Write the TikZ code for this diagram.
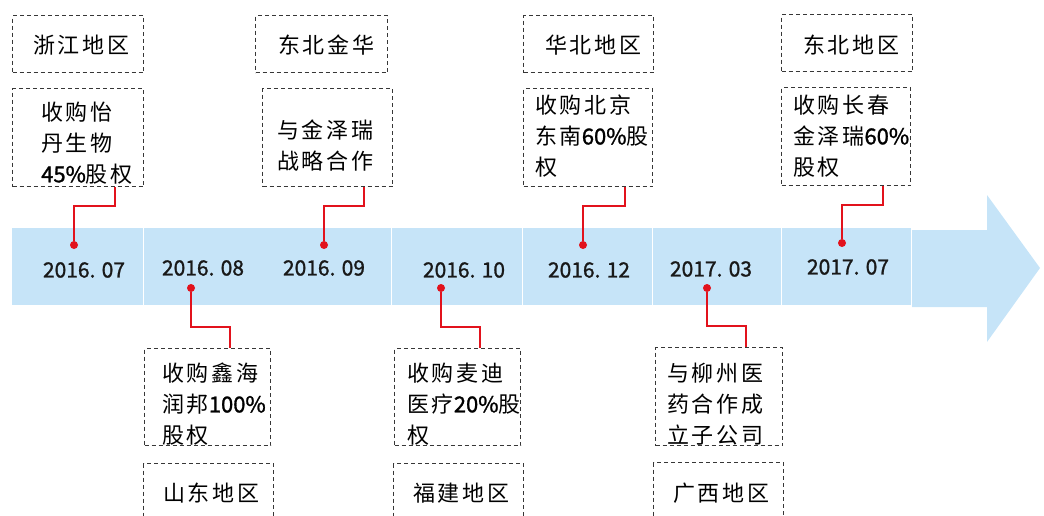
\documentclass[tikz,border=0pt]{standalone}
\usepackage{fontspec}
\setmainfont{Noto Sans CJK SC}
\newfontfamily\cjk[LetterSpace=12]{Noto Sans CJK SC}
\newfontfamily\datef[FakeBold=1.2]{Noto Sans CJK SC}
\newcommand{\nm}[1]{{\datef #1}}
\usetikzlibrary{calc}
\definecolor{band}{RGB}{198,228,248}
\definecolor{lnred}{RGB}{226,18,28}
\definecolor{boxline}{RGB}{55,55,55}
\begin{document}
\begin{tikzpicture}[x=1pt,y=-1pt,
  box/.style={draw=boxline, dash pattern=on 4pt off 3pt, line width=1.1pt, inner sep=0pt, anchor=north west},
  txt/.style={font=\cjk\fontsize{22}{31}\selectfont, align=left, anchor=west, inner sep=0pt, text=black},
  datelbl/.style={font=\datef\fontsize{21}{21}\selectfont, inner sep=0pt, text=black!90},
  dot/.style={circle, fill=lnred, inner sep=0pt, minimum size=8pt},
  conn/.style={draw=lnred, line width=1.6pt}]
\useasboundingbox (0,0) rectangle (1044,516);
\clip (0,0) rectangle (1044,516);
% band and arrow
\fill[band] (12,228) rectangle (911,305);
\foreach \x in {143,391,522,652,781}{\draw[white, line width=1pt] (\x,228) -- (\x,305);}
\fill[band] (912,230) -- (987,230) -- (987,195) -- (1040,268) -- (987,342) -- (987,307) -- (912,307) -- cycle;
% region boxes top
\node[box, minimum width=131pt, minimum height=57pt] (r1) at (12,15) {};
\node[box, minimum width=132pt, minimum height=57pt] (r2) at (255,15) {};
\node[box, minimum width=130pt, minimum height=57pt] (r3) at (523,15) {};
\node[box, minimum width=131pt, minimum height=57pt] (r4) at (781,14) {};
\node[txt] (r1t) at (33,45) {浙江地区};
\node[txt] (r2t) at (278,45) {东北金华};
\node[txt] (r3t) at (545,45) {华北地区};
\node[txt] (r4t) at (803,45) {东北地区};
% activity boxes top
\node[box, minimum width=131pt, minimum height=98pt] (a1) at (12,88) {};
\node[box, minimum width=130pt, minimum height=98pt] (a2) at (262,88) {};
\node[box, minimum width=129pt, minimum height=98pt] (a3) at (523,88) {};
\node[box, minimum width=129pt, minimum height=98pt] (a4) at (781,87) {};
\node[txt] (a1t) at (41,143) {收购怡\\丹生物\\\nm{45\%}股权};
\node[txt] (a2t) at (277,146) {与金泽瑞\\战略合作};
\node[txt] (a3t) at (535,136) {收购北京\\东南\nm{60\%}股\\权};
\node[txt] (a4t) at (793,136) {收购长春\\金泽瑞\nm{60\%}\\股权};
% activity boxes bottom
\node[box, minimum width=126pt, minimum height=97pt] (a5) at (144,348) {};
\node[box, minimum width=126pt, minimum height=97pt] (a6) at (394,348) {};
\node[box, minimum width=127pt, minimum height=98pt] (a7) at (655,347) {};
\node[txt] (a5t) at (162,404) {收购鑫海\\润邦\nm{100\%}\\股权};
\node[txt] (a6t) at (407,404) {收购麦迪\\医疗\nm{20\%}股\\权};
\node[txt] (a7t) at (667,404) {与柳州医\\药合作成\\立子公司};
% region boxes bottom
\node[box, minimum width=130pt, minimum height=90pt] (r5) at (143,463) {};
\node[box, minimum width=130pt, minimum height=90pt] (r6) at (393,463) {};
\node[box, minimum width=130pt, minimum height=90pt] (r7) at (653,462) {};
\node[txt] (r5t) at (163,493) {山东地区};
\node[txt] (r6t) at (413,493) {福建地区};
\node[txt] (r7t) at (673,493) {广西地区};
% dates
\node[datelbl] (t1) at (84,270) {2016. 07};
\node[datelbl] (t2) at (203,268) {2016. 08};
\node[datelbl] (t3) at (324,268) {2016. 09};
\node[datelbl] (t4) at (464,270) {2016. 10};
\node[datelbl] (t5) at (589,270) {2016. 12};
\node[datelbl] (t6) at (711,269) {2017. 03};
\node[datelbl] (t7) at (848,267) {2017. 07};
% dots
\node[dot] (d1) at (74,245) {};
\node[dot] (d2) at (191,288) {};
\node[dot] (d3) at (324,245) {};
\node[dot] (d4) at (441,288) {};
\node[dot] (d5) at (583,245) {};
\node[dot] (d6) at (707,288) {};
\node[dot] (d7) at (842,243) {};
% connectors
\coordinate (k1) at ($(a1.south west)+(103,0)$);
\coordinate (k3) at ($(a2.south west)+(102,0)$);
\coordinate (k5) at ($(a3.south west)+(102,0)$);
\coordinate (k7) at ($(a4.south west)+(102,0)$);
\coordinate (k2) at ($(a5.north west)+(86,0)$);
\coordinate (k4) at ($(a6.north west)+(86,0)$);
\coordinate (k6) at ($(a7.north west)+(91,0)$);
\draw[conn] (k1) -- ++(0,19) -| (d1);
\draw[conn] (k3) -- ++(0,19) -| (d3);
\draw[conn] (k5) -- ++(0,19) -| (d5);
\draw[conn] (k7) -- ++(0,19) -| (d7);
\draw[conn] (k2) -- ++(0,-21) -| (d2);
\draw[conn] (k4) -- ++(0,-21) -| (d4);
\draw[conn] (k6) -- ++(0,-21) -| (d6);
\end{tikzpicture}
\end{document}
